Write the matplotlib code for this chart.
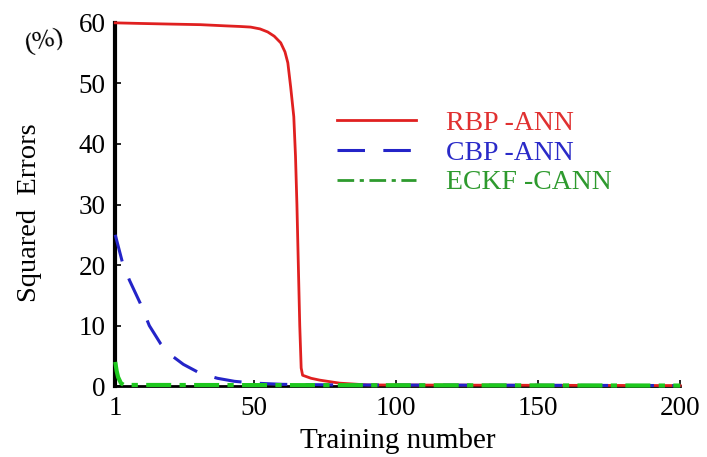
#!/usr/bin/env python3

import matplotlib
matplotlib.use('Agg')
import matplotlib.pyplot as plt

plt.rcParams['font.family'] = ['Liberation Serif', 'DejaVu Serif']

rbp_x = [1, 10, 20, 31, 40, 45, 48.7, 52, 54.7, 57, 59.3, 60.8, 61.8, 62.8, 63.9, 64.5, 65, 65.5,
         66, 66.5, 67, 70, 73, 80, 90, 200]
rbp_y = [60, 59.9, 59.8, 59.7, 59.5, 59.4, 59.3, 59.0, 58.5, 57.8, 56.7, 55.2, 53.4, 49.4, 44.5, 38, 30, 20,
         10, 3, 1.8, 1.3, 1.0, 0.5, 0.2, 0.1]
cbp_x = [1, 3.5, 6, 9.8, 13, 17, 21, 25, 31, 37, 43, 50, 60, 80, 200]
cbp_y = [25, 20.5, 17.5, 13.7, 10, 7, 5, 3.6, 2.1, 1.3, 0.8, 0.5, 0.3, 0.2, 0.1]
eckf_x = [1, 1.5, 2, 3, 4, 200]
eckf_y = [4, 2.5, 1.5, 0.5, 0.2, 0.1]
labels = ['RBP -ANN', 'CBP -ANN', 'ECKF -CANN']
text_colors = ['#e03030', '#2a2ac8', '#2e9a2e']
xticks = [1, 50, 100, 150, 200]
yticks = [0, 10, 20, 30, 40, 50, 60]

fig = plt.figure(figsize=(7.07, 4.57), dpi=100)
ax = fig.add_axes([0.163, 0.155, 0.799, 0.795])

ax.plot(rbp_x, rbp_y, color='#e02020', lw=2.0, label=labels[0], clip_on=False, zorder=3)
ax.plot(cbp_x, cbp_y, color='#2424c8', lw=2.2, ls=(0, (9, 6)), label=labels[1], clip_on=False, zorder=4)
ax.plot(eckf_x, eckf_y, color='#1ec81e', lw=3.0, ls=(0, (6, 2, 1.5, 2)), label=labels[2], clip_on=False, zorder=5)

ax.set_xlim(1, 200)
ax.set_ylim(0, 60)
ax.set_xticks(xticks)
ax.set_yticks(yticks)
ax.tick_params(direction='in', length=4, width=1.2, labelsize=19.5, pad=7)
for side in ['top', 'right']:
    ax.spines[side].set_visible(False)
ax.spines['left'].set_linewidth(3)
ax.spines['bottom'].set_linewidth(2)

ax.set_xlabel('Training number', fontsize=21, labelpad=5)
ax.set_ylabel('Squared  Errors', fontsize=20.5)
ax.yaxis.set_label_coords(-0.13, 0.478)
ax.text(-0.163, 0.99, '(%)', transform=ax.transAxes, fontsize=19, va='top', ha='left', rotation=12)

leg = ax.legend(loc='upper left', bbox_to_anchor=(0.393, 0.758), frameon=False, fontsize=20,
                borderpad=0, borderaxespad=0, handlelength=2.85, handletextpad=1.08,
                labelspacing=0.15)
for text, c in zip(leg.get_texts(), text_colors):
    text.set_color(c)
leg.get_lines()[2].set_color('#2e9a2e')
leg.get_lines()[2].set_linewidth(2.0)

fig.savefig('out.png', dpi=100)
